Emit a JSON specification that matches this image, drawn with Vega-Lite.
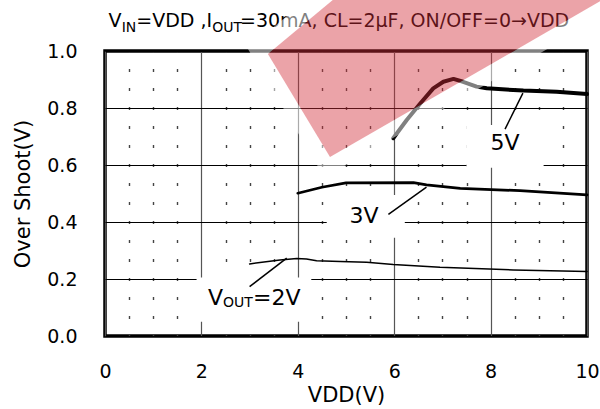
{
  "$schema": "https://vega.github.io/schema/vega-lite/v6.json",
  "width": 482,
  "height": 285,
  "autosize": {"type": "none"},
  "padding": {"left": 105, "top": 51, "right": 13, "bottom": 73},
  "background": "white",
  "config": {
    "font": "DejaVu Sans",
    "view": {"stroke": "black", "strokeWidth": 3.5},
    "axis": {
      "domain": false,
      "ticks": false,
      "tickSize": 0,
      "labelFont": "DejaVu Sans",
      "labelFontSize": 19,
      "labelColor": "black",
      "titleFont": "DejaVu Sans",
      "titleFontSize": 21,
      "titleFontWeight": "normal",
      "titleColor": "black",
      "labelOverlap": false,
      "labelBound": false,
      "labelFlush": false
    }
  },
  "datasets": {
    "curves": [
      {"s": "5V", "x": 5.98, "y": 0.694},
      {"s": "5V", "x": 6.26, "y": 0.758},
      {"s": "5V", "x": 6.54, "y": 0.816},
      {"s": "5V", "x": 6.81, "y": 0.869},
      {"s": "5V", "x": 7.02, "y": 0.892},
      {"s": "5V", "x": 7.23, "y": 0.902},
      {"s": "5V", "x": 7.43, "y": 0.892},
      {"s": "5V", "x": 7.71, "y": 0.875},
      {"s": "5V", "x": 7.92, "y": 0.869},
      {"s": "5V", "x": 8.68, "y": 0.861},
      {"s": "5V", "x": 9.37, "y": 0.857},
      {"s": "5V", "x": 10.0, "y": 0.849},
      {"s": "3V", "x": 4.0, "y": 0.501},
      {"s": "3V", "x": 4.5, "y": 0.522},
      {"s": "3V", "x": 5.0, "y": 0.537},
      {"s": "3V", "x": 6.4, "y": 0.538},
      {"s": "3V", "x": 6.67, "y": 0.53},
      {"s": "3V", "x": 7.37, "y": 0.518},
      {"s": "3V", "x": 8.61, "y": 0.51},
      {"s": "3V", "x": 10.0, "y": 0.495},
      {"s": "2V", "x": 3.0, "y": 0.253},
      {"s": "2V", "x": 3.63, "y": 0.267},
      {"s": "2V", "x": 3.98, "y": 0.272},
      {"s": "2V", "x": 4.18, "y": 0.27},
      {"s": "2V", "x": 4.39, "y": 0.264},
      {"s": "2V", "x": 4.88, "y": 0.261},
      {"s": "2V", "x": 5.43, "y": 0.259},
      {"s": "2V", "x": 5.98, "y": 0.251},
      {"s": "2V", "x": 6.95, "y": 0.241},
      {"s": "2V", "x": 8.47, "y": 0.232},
      {"s": "2V", "x": 10.0, "y": 0.226}
    ],
    "boxes": [
      {"x": 7.5, "x2": 9.1, "y": 0.59, "y2": 0.74},
      {"x": 4.6, "x2": 6.22, "y": 0.345, "y2": 0.495},
      {"x": 1.9, "x2": 4.28, "y": 0.05, "y2": 0.205}
    ],
    "leaders": [
      {"x": 8.3, "y": 0.726, "x2": 8.67, "y2": 0.852},
      {"x": 5.88, "y": 0.427, "x2": 6.67, "y2": 0.522},
      {"x": 3.0, "y": 0.173, "x2": 3.77, "y2": 0.273}
    ],
    "texts": [
      {"role": "title", "t": "V", "x": 0.075, "y": 1.0832},
      {"role": "titlesub", "t": "IN", "x": 0.345, "y": 1.0677},
      {"role": "title", "t": "=VDD ,I", "x": 0.648, "y": 1.0832},
      {"role": "titlesub", "t": "OUT", "x": 2.225, "y": 1.0677},
      {"role": "title", "t": "=30mA, CL=2μF, ON/OFF=0→VDD", "x": 2.8, "y": 1.0832},
      {"role": "note", "t": "5V", "x": 7.998, "y": 0.6526},
      {"role": "note", "t": "3V", "x": 5.073, "y": 0.3965},
      {"role": "note", "t": "V", "x": 2.137, "y": 0.1088},
      {"role": "notesub", "t": "OUT", "x": 2.448, "y": 0.1035},
      {"role": "note", "t": "=2V", "x": 3.071, "y": 0.1088}
    ],
    "mark": [
      {"shape": "halo", "i": 0, "x": 2.96, "y": 1.0088},
      {"shape": "halo", "i": 1, "x": 4.554, "y": 0.5561},
      {"shape": "halo", "i": 2, "x": 10.685, "y": 1.1544},
      {"shape": "halo", "i": 3, "x": 10.685, "y": 1.1965},
      {"shape": "halo", "i": 4, "x": 4.3, "y": 1.1965},
      {"shape": "halo", "i": 5, "x": 2.96, "y": 1.0088},
      {"shape": "halo", "i": 6, "x": 3.38, "y": 0.9895},
      {"shape": "halo", "i": 7, "x": 4.85, "y": 1.1965},
      {"shape": "halo", "i": 8, "x": 10.498, "y": 1.1965},
      {"shape": "halo", "i": 9, "x": 4.668, "y": 0.6281},
      {"shape": "halo", "i": 10, "x": 3.38, "y": 0.9895},
      {"shape": "band", "i": 0, "x": 3.38, "y": 0.9895},
      {"shape": "band", "i": 1, "x": 4.668, "y": 0.6281},
      {"shape": "band", "i": 2, "x": 10.498, "y": 1.1965},
      {"shape": "band", "i": 3, "x": 4.85, "y": 1.1965}
    ]
  },
  "encoding": {
    "x": {
      "field": "x", "type": "quantitative",
      "scale": {"domain": [0, 10], "nice": false, "zero": false},
      "axis": {
        "title": "VDD(V)",
        "values": [0, 0.5, 1, 1.5, 2, 2.5, 3, 3.5, 4, 4.5, 5, 5.5, 6, 6.5, 7, 7.5, 8, 8.5, 9, 9.5, 10],
        "format": ".0f",
        "labelExpr": "datum.value % 2 === 0 ? datum.label : ''",
        "labelPadding": 26,
        "titlePadding": 3,
        "grid": true,
        "gridColor": {"condition": {"test": "datum.value % 2 === 0", "value": "#555555"}, "value": "#444444"},
        "gridWidth": {"condition": {"test": "datum.value % 2 === 0", "value": 1.2}, "value": 1.4},
        "gridDash": {"condition": {"test": "datum.value % 2 === 0", "value": []}, "value": [3, 16]},
        "gridDashOffset": {"condition": {"test": "datum.value % 2 === 0", "value": 0}, "value": 1.5}
      }
    },
    "y": {
      "field": "y", "type": "quantitative",
      "scale": {"domain": [0, 1], "nice": false},
      "axis": {
        "title": "Over Shoot(V)",
        "values": [0, 0.2, 0.4, 0.6, 0.8, 1.0],
        "format": ".1f",
        "labelPadding": 28,
        "titlePadding": 13,
        "grid": true,
        "gridColor": "black",
        "gridWidth": 1.2
      }
    }
  },
  "layer": [
    {
      "data": {"name": "boxes"},
      "mark": {"type": "rect", "color": "white"},
      "encoding": {
        "x2": {"field": "x2"},
        "y2": {"field": "y2"}
      }
    },
    {
      "data": {"name": "curves"},
      "mark": {"type": "line", "color": "black", "strokeCap": "round", "strokeJoin": "round"},
      "encoding": {
        "detail": {"field": "s"},
        "strokeWidth": {"field": "s", "type": "nominal", "scale": {"domain": ["2V", "3V", "5V"], "range": [1.5, 4, 4.5]}, "legend": null}
      }
    },
    {
      "data": {"name": "leaders"},
      "mark": {"type": "rule", "color": "black", "strokeWidth": 1.5},
      "encoding": {
        "x2": {"field": "x2"},
        "y2": {"field": "y2"}
      }
    },
    {
      "data": {"name": "texts"},
      "transform": [{"filter": "datum.role === 'title'"}],
      "mark": {"type": "text", "align": "left", "baseline": "alphabetic", "fontSize": 19, "font": "DejaVu Sans", "color": "black"},
      "encoding": {"text": {"field": "t"}}
    },
    {
      "data": {"name": "texts"},
      "transform": [{"filter": "datum.role === 'titlesub'"}],
      "mark": {"type": "text", "align": "left", "baseline": "alphabetic", "fontSize": 14, "font": "DejaVu Sans", "color": "black"},
      "encoding": {"text": {"field": "t"}}
    },
    {
      "data": {"name": "texts"},
      "transform": [{"filter": "datum.role === 'note'"}],
      "mark": {"type": "text", "align": "left", "baseline": "alphabetic", "fontSize": 22, "font": "DejaVu Sans", "color": "black"},
      "encoding": {"text": {"field": "t"}}
    },
    {
      "data": {"name": "texts"},
      "transform": [{"filter": "datum.role === 'notesub'"}],
      "mark": {"type": "text", "align": "left", "baseline": "alphabetic", "fontSize": 14, "font": "DejaVu Sans", "color": "black"},
      "encoding": {"text": {"field": "t"}}
    },
    {
      "data": {"name": "mark"},
      "transform": [{"filter": "datum.shape === 'halo'"}],
      "mark": {"type": "line", "fill": "white", "fillOpacity": 0.5, "strokeOpacity": 0, "strokeWidth": 0},
      "encoding": {"order": {"field": "i", "type": "quantitative"}}
    },
    {
      "data": {"name": "mark"},
      "transform": [{"filter": "datum.shape === 'band'"}],
      "mark": {"type": "line", "fill": "#d12d39", "fillOpacity": 0.44, "strokeOpacity": 0, "strokeWidth": 0},
      "encoding": {"order": {"field": "i", "type": "quantitative"}}
    }
  ]
}
